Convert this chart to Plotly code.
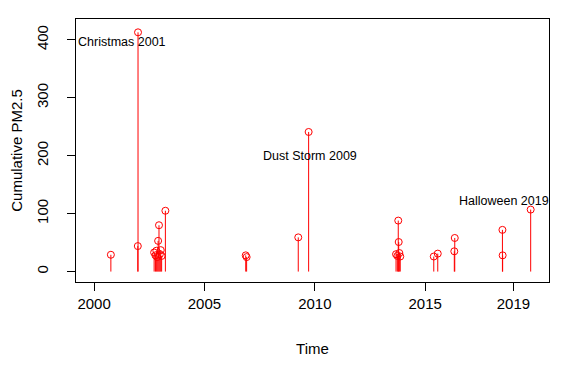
import plotly.graph_objects as go

# Event times (decimal years) and cumulative PM2.5 values
times = [2000.76, 2001.98, 2001.99,
         2002.72, 2002.78, 2002.82, 2002.86, 2002.90, 2002.94, 2002.98, 2003.02, 2003.06, 2003.23,
         2006.87, 2006.91,
         2009.25, 2009.72,
         2013.68, 2013.74, 2013.78, 2013.80, 2013.83, 2013.87,
         2015.39, 2015.57,
         2016.32, 2016.34,
         2018.50, 2018.51,
         2019.78]
values = [29, 44, 413,
          33, 28, 36, 25, 53, 80, 30, 37, 27, 105,
          28, 25,
          59, 241,
          30, 27, 88, 51, 32, 26,
          26, 31,
          35, 58,
          72, 28,
          107]

label_text = ["Christmas 2001", "Dust Storm 2009", "Halloween 2019"]
label_x = [2001.25, 2009.8, 2018.55]
label_y = [397, 199, 121]

x_ticks = [2000, 2005, 2010, 2015, 2019]
y_ticks = [0, 100, 200, 300, 400]

# build stems (type="h") from the data
stem_x, stem_y = [], []
for t, v in zip(times, values):
    stem_x += [t, t, None]
    stem_y += [0, v, None]

fig = go.Figure()
fig.add_trace(go.Scatter(x=stem_x, y=stem_y, mode="lines",
                         line=dict(color="#FF0000", width=1), hoverinfo="skip"))
fig.add_trace(go.Scatter(x=times, y=values, mode="markers",
                         marker=dict(symbol="circle-open", color="#FF0000", size=7,
                                     line=dict(width=1, color="#FF0000"))))

for t, x, y in zip(label_text, label_x, label_y):
    fig.add_annotation(x=x, y=y, text=t, showarrow=False,
                       font=dict(family="Arial, Liberation Sans", size=12.5, color="black"),
                       xanchor="center", yanchor="middle")

axis_font = dict(family="Arial, Liberation Sans", size=15, color="black")
fig.update_layout(
    width=588, height=389,
    margin=dict(l=68, r=47, t=11, b=115, autoexpand=False),
    paper_bgcolor="white", plot_bgcolor="white",
    showlegend=False,
    font=axis_font,
    xaxis=dict(range=[1999.18, 2020.61], tickvals=x_ticks, ticktext=[str(v) for v in x_ticks],
               showgrid=False, zeroline=False, showline=True, linecolor="black", linewidth=1,
               mirror=True, ticks="outside", ticklen=8, tickcolor="black",
               tickfont=axis_font, automargin=False,
               title=dict(text="Time", font=axis_font, standoff=32)),
    yaxis=dict(range=[-18, 436], tickvals=y_ticks, ticktext=[str(v) for v in y_ticks],
               showgrid=False, zeroline=False, showline=True, linecolor="black", linewidth=1,
               mirror=True, ticks="outside", ticklen=8, tickcolor="black",
               tickangle=-90, tickfont=axis_font, ticklabelstandoff=13, automargin=False,
               title=dict(text="Cumulative PM2.5", font=axis_font, standoff=17)),
)

fig.write_html("out.html")
